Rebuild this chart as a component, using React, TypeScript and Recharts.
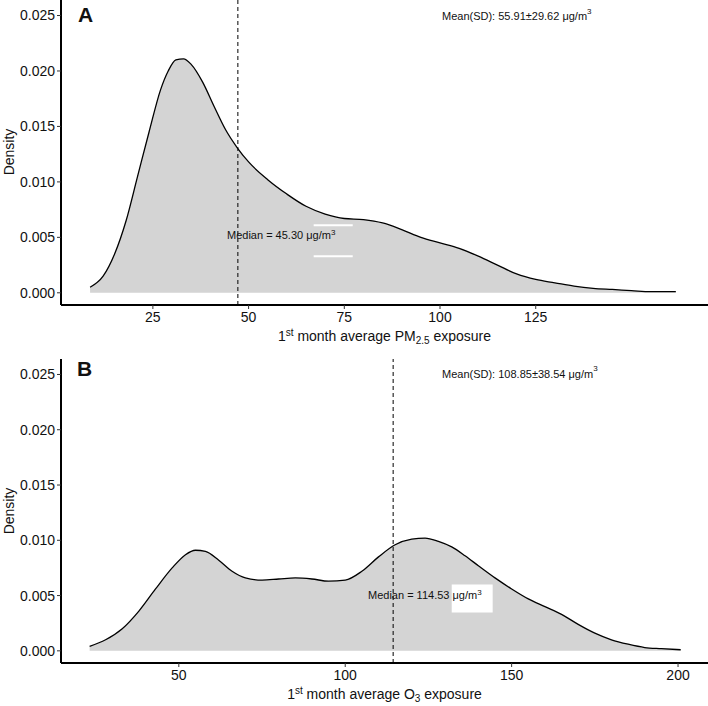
import React from 'react'
import { AreaChart, Area, XAxis, YAxis, ReferenceLine, ReferenceArea } from 'recharts'

// PM2.5 density curve (panel A)
const pmX = [8.6, 12, 15, 18, 21, 24, 27, 29, 31, 33, 35, 38, 41, 44, 47, 50, 55, 60, 65, 70, 75, 80, 85, 90, 95, 100, 105, 110, 115, 120, 125, 130, 135, 140, 145, 150, 155, 161.6]
const pmDensity = [0.0005, 0.0015, 0.0035, 0.0065, 0.0105, 0.0145, 0.0183, 0.02, 0.021, 0.0211, 0.0206, 0.019, 0.0168, 0.0147, 0.0131, 0.0118, 0.0102, 0.0089, 0.0078, 0.0071, 0.0067, 0.0066, 0.0063, 0.0057, 0.005, 0.0045, 0.004, 0.0033, 0.0025, 0.0017, 0.0012, 0.0009, 0.0006, 0.0004, 0.0003, 0.0002, 0.0001, 0.0001]

// O3 density curve (panel B)
const o3X = [23.2, 28, 33, 38, 43, 48, 52, 55, 58, 62, 66, 70, 75, 80, 85, 90, 95, 100, 105, 110, 115, 120, 124, 128, 132, 136, 140, 145, 150, 155, 160, 165, 170, 175, 180, 185, 190, 195, 200.8]
const o3Density = [0.0004, 0.001, 0.002, 0.0036, 0.0056, 0.0075, 0.0087, 0.0091, 0.009, 0.0082, 0.0072, 0.0066, 0.0064, 0.0065, 0.0066, 0.0065, 0.0063, 0.0064, 0.0072, 0.0085, 0.0096, 0.0101, 0.0102, 0.0099, 0.0094, 0.0086, 0.0077, 0.0066, 0.0056, 0.0047, 0.004, 0.0033, 0.0024, 0.0016, 0.001, 0.0006, 0.0003, 0.0002, 0.0001]

const densityTicks = [0, 0.005, 0.01, 0.015, 0.02, 0.025]
const pmTicks = [25, 50, 75, 100, 125]
const o3Ticks = [50, 100, 150, 200]

const pmMedian = 47.2
const o3Median = 114.4

const pmData = pmX.map((x, i) => ({ x, d: pmDensity[i] }))
const o3Data = o3X.map((x, i) => ({ x, d: o3Density[i] }))

const FONT = '"Liberation Sans", Arial, sans-serif'
const tickStyle = { fontSize: 14, fill: '#111', fontFamily: FONT }

function abs(left: number, baseline: number, fs: number): React.CSSProperties {
  return {
    position: 'absolute',
    left,
    top: baseline - 0.8465 * fs,
    fontSize: fs,
    lineHeight: `${fs}px`,
    whiteSpace: 'nowrap',
    fontFamily: FONT,
    color: '#111',
  }
}

const sup = (raise: number, fs: number): React.CSSProperties => ({
  fontSize: fs,
  position: 'relative',
  top: -raise,
  lineHeight: 0,
})

function Panel({ data, xDomain, xTicks, median, height, top, bottom, children }: any) {
  return (
    <AreaChart width={708} height={height} data={data} margin={{ top, right: 0, bottom: 0, left: 0 }}>
      <XAxis
        dataKey="x"
        type="number"
        domain={xDomain}
        ticks={xTicks}
        allowDataOverflow
        height={bottom}
        axisLine={{ stroke: '#000', strokeWidth: 2 }}
        tickLine={{ stroke: '#333' }}
        tickSize={4}
        tickMargin={3}
        tick={tickStyle}
      />
      <YAxis
        type="number"
        domain={[-0.0011, 0.0264]}
        ticks={densityTicks}
        allowDataOverflow
        width={61}
        tickFormatter={(v: number) => v.toFixed(3)}
        axisLine={{ stroke: '#000', strokeWidth: 2 }}
        tickLine={{ stroke: '#333' }}
        tickSize={4}
        tickMargin={2}
        tick={tickStyle}
      />
      <Area
        dataKey="d"
        type="monotone"
        baseValue={0}
        fill="#d4d4d4"
        fillOpacity={1}
        stroke="#000"
        strokeWidth={1.3}
        dot={false}
        activeDot={false}
        isAnimationActive={false}
      />
      <ReferenceLine x={median} stroke="#000" strokeWidth={1} strokeDasharray="4 3" />
      {children}
    </AreaChart>
  )
}

export default function App() {
  return (
    <div style={{ position: 'relative', width: 708, height: 706, background: '#fff', overflow: 'hidden' }}>
      <style>{`body{margin:0}`}</style>
      <div style={{ position: 'absolute', left: 0, top: 0 }}>
        <Panel data={pmData} xDomain={[1, 170]} xTicks={pmTicks} median={pmMedian} height={355} top={0} bottom={50}>
          <ReferenceLine segment={[{ x: 67, y: 0.0061 }, { x: 77.2, y: 0.0061 }]} stroke="#fff" strokeWidth={2} />
          <ReferenceLine segment={[{ x: 67, y: 0.0033 }, { x: 77.2, y: 0.0033 }]} stroke="#fff" strokeWidth={2} />
        </Panel>
      </div>
      <div style={{ position: 'absolute', left: 0, top: 355 }}>
        <Panel data={o3Data} xDomain={[14.6, 209]} xTicks={o3Ticks} median={o3Median} height={351} top={4} bottom={43}>
          <ReferenceArea x1={132} x2={144.3} y1={0.00347} y2={0.006} fill="#fff" fillOpacity={1} stroke="none" />
        </Panel>
      </div>

      {/* panel labels */}
      <div style={{ ...abs(78, 22, 21), fontWeight: 700 }}>A</div>
      <div style={{ ...abs(77, 376, 21), fontWeight: 700 }}>B</div>

      {/* Density labels */}
      {[152, 511].map((cy) => (
        <div
          key={cy}
          style={{
            position: 'absolute',
            left: 9,
            top: cy,
            transform: 'translate(-50%, -50%) rotate(-90deg)',
            fontSize: 14,
            lineHeight: '14px',
            fontFamily: FONT,
            color: '#111',
            whiteSpace: 'nowrap',
          }}
        >
          Density
        </div>
      ))}

      {/* mean annotations */}
      <div style={abs(442, 20.5, 11)}>
        Mean(SD): 55.91±29.62 μg/m<span style={sup(6.5, 8)}>3</span>
      </div>
      <div style={abs(442, 378, 11)}>
        Mean(SD): 108.85±38.54 μg/m<span style={sup(6.5, 8)}>3</span>
      </div>

      {/* median annotations */}
      <div style={abs(227, 239.3, 11)}>
        Median = 45.30 μg/m<span style={sup(4, 8)}>3</span>
      </div>
      <div style={abs(368, 599.3, 11)}>
        Median = 114.53 μg/m<span style={sup(4, 8)}>3</span>
      </div>

      {/* axis titles */}
      <div style={{ ...abs(61, 341, 14), width: 647, textAlign: 'center' }}>
        1<span style={sup(5, 10)}>st</span> month average PM<span style={sup(-3, 10)}>2.5</span> exposure
      </div>
      <div style={{ ...abs(61, 699, 14), width: 647, textAlign: 'center' }}>
        1<span style={sup(5, 10)}>st</span> month average O<span style={sup(-3, 10)}>3</span> exposure
      </div>
    </div>
  )
}
